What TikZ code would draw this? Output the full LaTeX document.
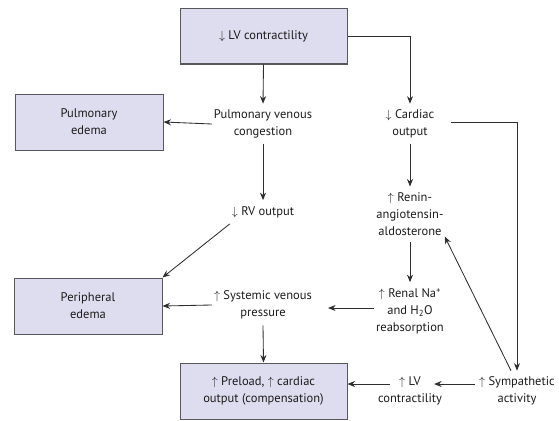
\documentclass[tikz,border=0pt]{standalone}
\usepackage{fontspec}
\setmainfont{PT Sans}
\usetikzlibrary{arrows.meta}
\definecolor{boxfill}{HTML}{DEDDEF}
\definecolor{boxline}{HTML}{58585A}
\definecolor{arr}{HTML}{2E2E2E}
\definecolor{txt}{HTML}{1E1B1C}
\begin{document}
\begin{tikzpicture}[x=1pt,y=-1pt,
  every node/.style={font=\fontsize{12.5}{16.8}\selectfont, text=txt, align=center},
  boxnode/.style={draw=boxline, line width=1pt, fill=boxfill, inner sep=0pt},
  lbl/.style={inner xsep=2pt, inner ysep=6pt},
  conn/.style={draw=arr, line width=0.85pt, -{Stealth[length=7.5pt,width=6pt]}},
  plain/.style={draw=arr, line width=0.85pt}
]
\path[use as bounding box] (0,0) rectangle (559,420);

\node[boxnode, minimum width=167pt, minimum height=55pt] (top) at (263.5,36.5) {$\downarrow$ LV contractility};
\node[boxnode, minimum width=148pt, minimum height=56pt] (pe) at (89,122) {Pulmonary\\edema};
\node[boxnode, minimum width=148pt, minimum height=56pt] (per) at (88,306) {Peripheral\\edema};
\node[boxnode, minimum width=167pt, minimum height=56pt] (pre) at (263.5,391) {$\uparrow$ Preload, $\uparrow$ cardiac\\output (compensation)};

\node[lbl] (pve) at (263,124) {Pulmonary venous\\congestion};
\node[lbl] (co) at (410,124) {$\downarrow$ Cardiac\\output};
\node[lbl] (rv) at (263,212) {$\downarrow$ RV output};
\node[lbl] (ras) at (410,214) {$\uparrow$ Renin-\\angiotensin-\\aldosterone};
\node[lbl] (svp) at (263,305) {$\uparrow$ Systemic venous\\pressure};
\node[lbl] (renal) at (410,311) {$\uparrow$ Renal Na\textsuperscript{+}\\and H\textsubscript{2}O\\reabsorption};
\node[lbl] (lvc) at (410,391) {$\uparrow$ LV\\contractility};
\node[lbl] (sym) at (517,391) {$\uparrow$ Sympathetic\\activity};

\draw[conn] (top.south) -- (pve.north);
\draw[conn] (top.east) -| (co.north);
\draw[conn] (pve.west) -- (pe.east);
\draw[conn] (pve.south) -- (rv.north);
\draw[conn] (rv.south west) -- (per.north east);
\draw[conn] (co.south) -- (ras.north);
\draw[conn] ([xshift=14pt,yshift=2pt]co.east) -| (sym.north);
\draw[conn] (ras.south) -- (renal.north);
\draw[conn] ([xshift=-6pt]sym.north) -- ([xshift=-1pt,yshift=5pt]ras.south east);
\draw[conn] ([yshift=3pt]renal.west) -- ([xshift=14pt,yshift=-3pt]svp.east);
\draw[conn] (svp.west) -- (per.east);
\draw[conn] (svp.south) -- (pre.north);
\draw[conn] ([yshift=7pt,xshift=-2pt]sym.west) -- ([yshift=7pt,xshift=-10pt]lvc.east);
\draw[conn] ([yshift=7pt,xshift=14pt]lvc.west) -- ([yshift=7pt]pre.east);
\end{tikzpicture}
\end{document}
